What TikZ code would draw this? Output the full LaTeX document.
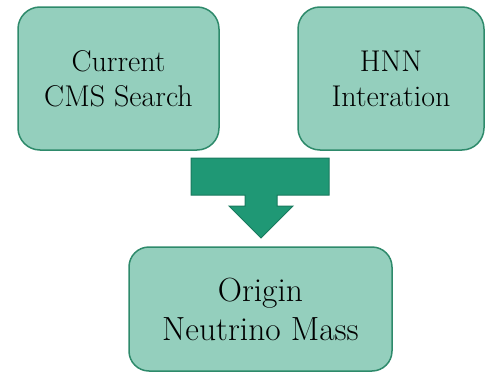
\documentclass[tikz,border=0pt]{standalone}
\definecolor{boxfill}{HTML}{94CFBD}
\definecolor{boxline}{HTML}{2E8A6B}
\definecolor{arrfill}{HTML}{1F9875}
\definecolor{arrline}{HTML}{197A5E}
\begin{document}
\begin{tikzpicture}[x=1pt,y=-1pt,
  box/.style={draw=boxline, fill=boxfill, line width=1.5pt, rounded corners=22pt,
    align=center, inner sep=0pt},
  topfont/.style={font=\fontsize{30}{35}\selectfont},
  botfont/.style={font=\fontsize{33.5}{39}\selectfont}]
\useasboundingbox (0,0) rectangle (485,372);
\node[box, topfont, minimum width=201pt, minimum height=143pt] (cms) at (118.5,78.5) {Current\\CMS Search};
\node[box, topfont, minimum width=186pt, minimum height=143pt] (hnn) at (391,78.5) {HNN\\Interation};
\node[box, botfont, minimum width=263pt, minimum height=124pt, rounded corners=20pt] (nu) at (260.5,309) {Origin\\Neutrino Mass};
\draw[draw=arrline, fill=arrfill, line width=1pt]
  (191,158) -- (329,158) -- (329,195) -- (277,195) -- (277,206) -- (293,206)
  -- (261,238) -- (229,206) -- (245,206) -- (245,195) -- (191,195) -- cycle;
\end{tikzpicture}
\end{document}
